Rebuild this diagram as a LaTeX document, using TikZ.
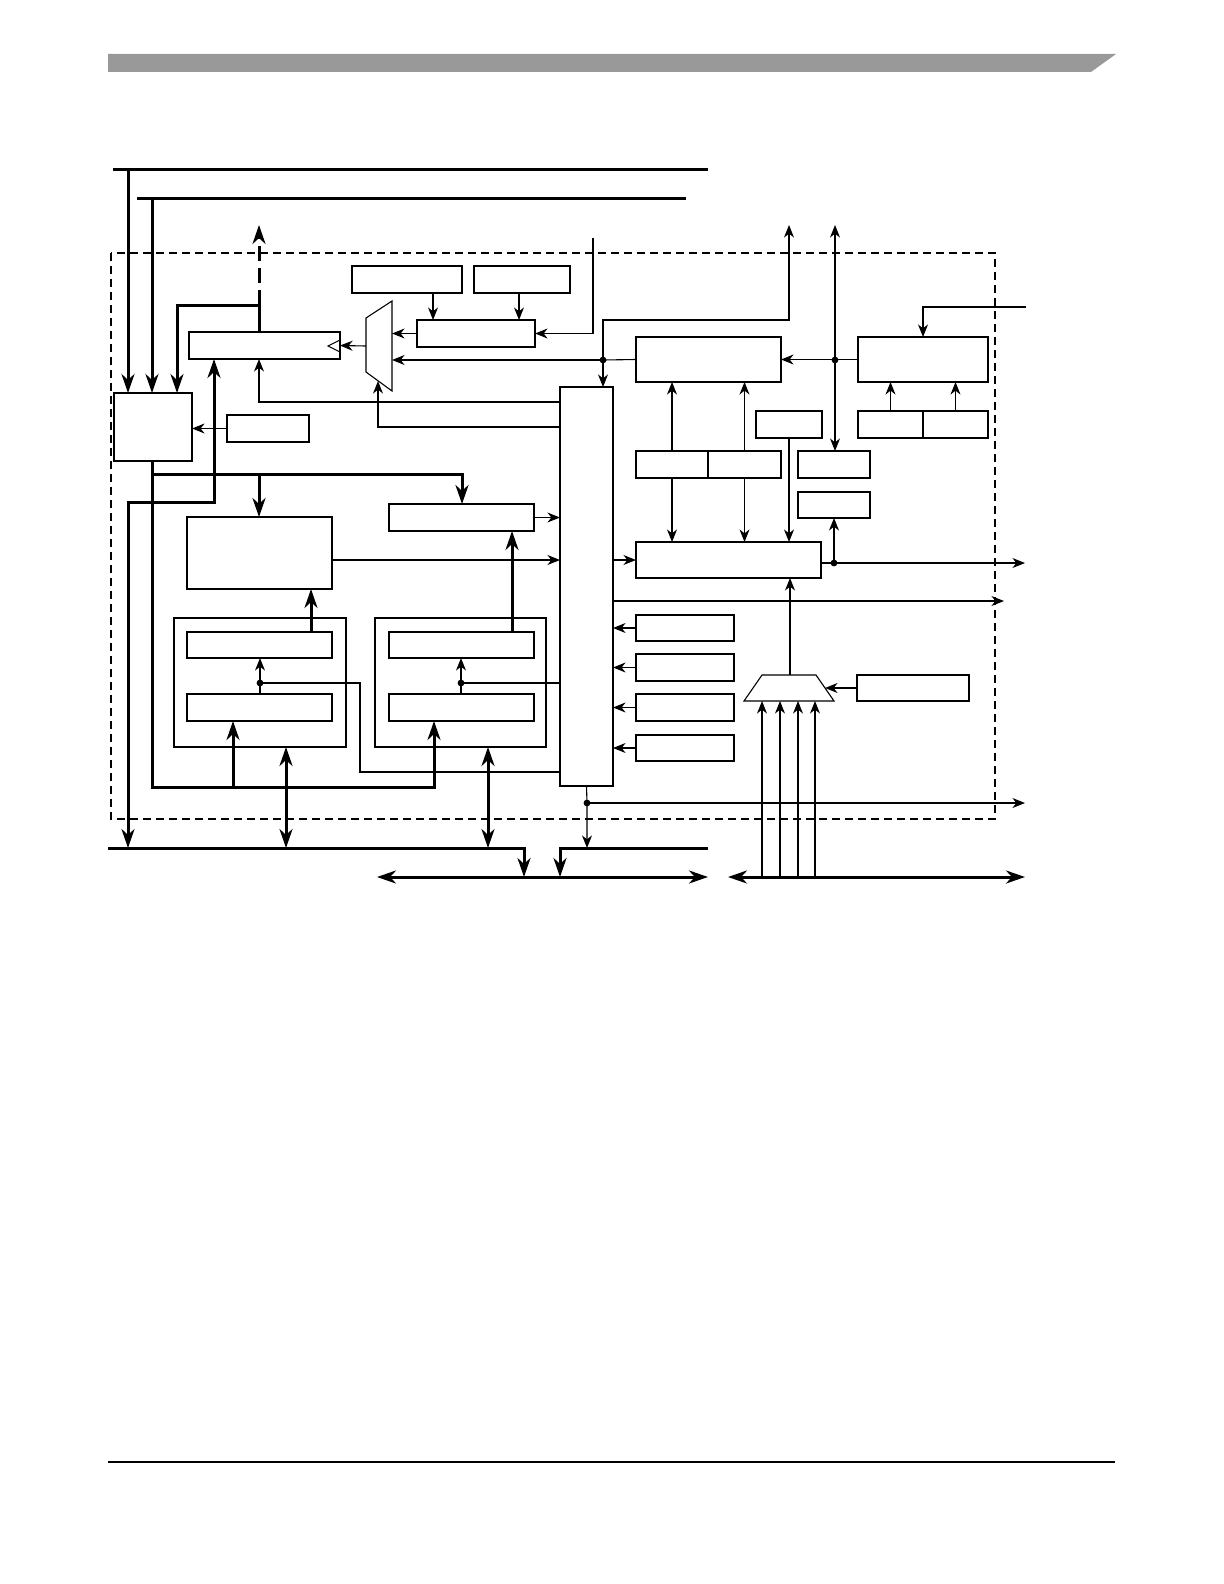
\documentclass[tikz,border=0pt]{standalone}
\usetikzlibrary{arrows.meta,fit,positioning}
\definecolor{hdrgray}{gray}{0.6}
\newcommand{\blk}[5]{%
  \node[blk,fit={(#2,#3) (#4,#5)}] (#1) {};
}
\newcommand{\jdot}[3]{%
  \coordinate (#1) at (#2,#3);
  \fill (#1) circle (1.7pt);
}

\begin{document}
\begin{tikzpicture}[x=0.5pt,y=-0.5pt,line width=0.55pt,
    >={Stealth[length=6.3pt,width=5pt,inset=2pt]},
    blk/.style={draw,inner sep=0pt,outer sep=0pt},
    bus/.style={line width=1.5pt,>={Stealth[length=9.5pt,width=6.5pt,inset=3pt]}}]
    \useasboundingbox (0,0) rectangle (1224,1584);
    % page header and footer
    \fill[hdrgray] (108,54) -- (1116,54) -- (1091,72) -- (108,72) -- cycle;
    \draw[line width=0.9pt] (108,1462) -- (1115,1462);
    % module outline
    \draw[dash pattern=on 4pt off 2.5pt] (111,253) rectangle (995,819);

    % blocks
    \blk{ctl}{114}{393}{192}{461}
    \blk{cfg}{227}{415}{309}{442}
    \blk{reg}{189}{332}{340}{359}
    \blk{srca}{352}{266}{462}{293}
    \blk{srcb}{474}{266}{570}{293}
    \blk{sel}{417}{320}{535}{347}
    \blk{core}{560}{387}{613}{786}
    \blk{ctr}{636}{337}{781}{382}
    \blk{tmr}{858}{337}{988}{382}
    \blk{tmra}{858}{411}{923}{438}
    \blk{tmrb}{923}{411}{988}{438}
    \blk{pre}{756}{411}{822}{438}
    \blk{ctra}{636}{451}{708}{478}
    \blk{ctrb}{708}{451}{781}{478}
    \blk{sts}{798}{451}{870}{478}
    \blk{flg}{798}{492}{870}{518}
    \blk{cmp}{636}{542}{821}{578}
    \blk{ina}{636}{615}{734}{641}
    \blk{inb}{636}{654}{734}{681}
    \blk{inc}{636}{694}{734}{721}
    \blk{ind}{636}{735}{734}{761}
    \blk{clk}{857}{675}{969}{701}
    \blk{buf}{187}{517}{332}{589}
    \blk{dec}{389}{504}{534}{531}
    \blk{chA}{174}{618}{346}{747}
    \blk{chAhi}{187}{632}{332}{658}
    \blk{chAlo}{187}{694}{332}{721}
    \blk{chB}{375}{618}{546}{747}
    \blk{chBhi}{389}{632}{534}{658}
    \blk{chBlo}{389}{694}{534}{721}

    % multiplexers and clock mark
    \draw (366,318) -- (392,301) -- (392,391) -- (366,372) -- cycle;
    \coordinate (mxa) at (366,346);
    \draw (340,340) -- (328,346) -- (340,352);
    \draw (762,675) -- (816,675) -- (834,701) -- (744,701) -- cycle;
    \coordinate (mxb) at (790,675);
    \coordinate (mxbsel) at (825,688);

    % junctions
    \jdot{jd}{603}{360}
    \jdot{je}{835}{360}
    \jdot{jo}{834}{563}
    \jdot{jz}{587}{803}
    \jdot{jpa}{260}{683}
    \jdot{jpb}{461}{683}

    % free ends
    \coordinate (ba1) at (113,169);  \coordinate (ba2) at (708,169);
    \coordinate (bb1) at (137,198);  \coordinate (bb2) at (686,198);
    \coordinate (bc1) at (108,848);  \coordinate (bc2) at (524,848);
    \coordinate (bd1) at (708,848);  \coordinate (bd2) at (560,848);
    \coordinate (be1) at (377,877);  \coordinate (be2) at (708,877);
    \coordinate (bf1) at (728,877);  \coordinate (bf2) at (1025,877);
    \coordinate (out1) at (259,225);
    \coordinate (out2) at (789,225);
    \coordinate (out3) at (835,225);
    \coordinate (in1) at (593,238);
    \coordinate (in4) at (1026,307);
    \coordinate (out5) at (1025,563);
    \coordinate (out6) at (1004,601);
    \coordinate (out7) at (1025,803);

    % buses
    \draw[bus] (ba1) -- (ba2);
    \draw[bus] (bb1) -- (bb2);
    \draw[bus,->] (128,0 |- ba1) -- (128,0 |- ctl.north);
    \draw[bus,->] (152,0 |- bb1) -- (152,0 |- ctl.north);
    \draw[bus,->] (259,0 |- reg.north) -- (259,305) -| (177,0 |- ctl.north);
    \draw[bus] (259,305) -- (259,290);
    \draw[bus,->,dash pattern=on 7.5pt off 3.5pt,dash phase=7.5pt] (259,290) -- (out1);
    \draw[bus,<->] (128,0 |- bc1) |- (214,502) -- (214,0 |- reg.south);
    \draw[bus,->] (152,0 |- ctl.south) |- (434,787) -- (434,0 |- chBlo.south);
    \draw[bus,->] (233,787) -- (233,0 |- chAlo.south);
    \draw[bus,->] (152,474) -| (462,0 |- dec.north);
    \draw[bus,->] (259,474) -- (259,0 |- buf.north);
    \draw[bus,->] (311,0 |- chAhi.north) -- (311,0 |- buf.south);
    \draw[bus,->] (512,0 |- chBhi.north) -- (512,0 |- dec.south);
    \draw[bus,<->] (286,0 |- chA.south) -- (286,0 |- bc1);
    \draw[bus,<->] (488,0 |- chB.south) -- (488,0 |- bc1);
    \draw[bus,->] (bc1) -- (bc2) -- (bc2 |- be1);
    \draw[bus,->] (bd1) -- (bd2) -- (bd2 |- be1);
    \draw[bus,<->] (be1) -- (be2);
    \draw[bus,<->] (bf1) -- (bf2);

    % signals
    \draw[->] (433,0 |- srca.south) -- (433,0 |- sel.north);
    \draw[->] (519,0 |- srcb.south) -- (519,0 |- sel.north);
    \draw[->] (in1) |- (sel.east);
    \draw[->] (sel.west) -- (392,0 |- sel.west);
    \draw[->] (jd) -- (392,360);
    \draw (jd) -- (ctr.west);
    \draw[<->] (out2) |- (603,320) -- (603,0 |- core.north);
    \draw[<->] (out3) -- (out3 |- sts.north);
    \draw[->] (tmr.west) -- (ctr.east);
    \draw[->] (in4) -| (tmr.north);
    \draw[->] (tmra.north) -- (tmra.north |- tmr.south);
    \draw[->] (tmrb.north) -- (tmrb.north |- tmr.south);
    \draw[->] (ctra.north) -- (ctra.north |- ctr.south);
    \draw[->] (ctrb.north) -- (ctrb.north |- ctr.south);
    \draw[->] (ctra.south) -- (ctra.south |- cmp.north);
    \draw[->] (ctrb.south) -- (ctrb.south |- cmp.north);
    \draw[->] (pre.south) -- (pre.south |- cmp.north);
    \draw[->] (core.east |- cmp.west) -- (cmp.west);
    \draw[->] (cmp.east |- jo) -- (out5);
    \draw[->] (jo) -- (flg.south);
    \draw[->] (core.east |- out6) -- (out6);
    \foreach \n in {ina,inb,inc,ind}
      \draw[->] (\n.west) -- (\n.west -| core.east);
    \draw[->] (mxb) -- (mxb |- cmp.south);
    \draw[->] (clk.west) -- (mxbsel);
    \foreach \x in {762,780,798,815}
      \draw[->] (\x,0 |- bf1) -- (\x,701);
    \draw[->] (core.south) -- (jz) -- (jz |- bd1);
    \draw[->] (jz) -- (out7);
    \draw[->] (core.west |- 0,402) -| (259,0 |- reg.south);
    \draw[->] (core.west |- 0,427) -| (378,381);
    \draw[->] (mxa) -- (reg.east);
    \draw[->] (cfg.west) -- (cfg.west -| ctl.east);
    \draw[->] (dec.east) -- (dec.east -| core.west);
    \draw[->] (buf.east |- 0,560) -- (core.west |- 0,560);
    \draw[->] (jpa) -- (jpa |- chAhi.south);
    \draw (jpa) -- (jpa |- chAlo.north);
    \draw (jpa) -| (360,772) -- (core.west |- 0,772);
    \draw[->] (jpb) -- (jpb |- chBhi.south);
    \draw (jpb) -- (jpb |- chBlo.north);
    \draw (jpb) -- (core.west |- jpb);
\end{tikzpicture}
\end{document}
